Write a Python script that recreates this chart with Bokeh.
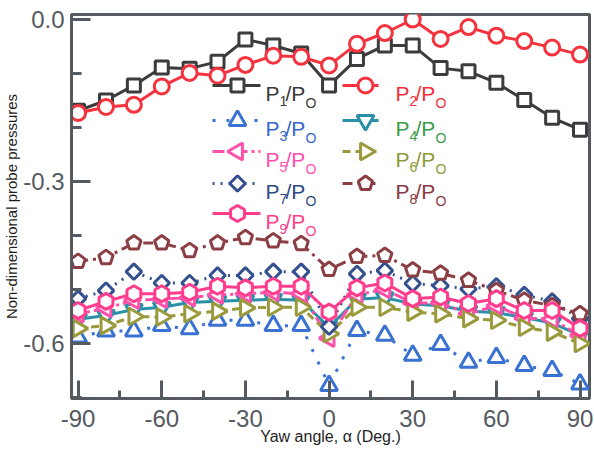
import math
from bokeh.plotting import figure
from bokeh.models import Range1d, FixedTicker, NumeralTickFormatter
from bokeh.core.properties import value
from bokeh.embed import file_html
from bokeh.resources import INLINE

# ---------------- data ----------------
yaw = [-90, -80, -70, -60, -50, -40, -30, -20, -10, 0, 10, 20, 30, 40, 50, 60, 70, 80, 90]
p1 = [-0.169, -0.150, -0.122, -0.089, -0.091, -0.078, -0.037, -0.048, -0.063, -0.122,
      -0.073, -0.048, -0.048, -0.090, -0.096, -0.117, -0.149, -0.182, -0.204]
p2 = [-0.173, -0.162, -0.158, -0.124, -0.099, -0.104, -0.084, -0.067, -0.069, -0.085,
      -0.045, -0.025, 0.000, -0.036, -0.014, -0.030, -0.040, -0.052, -0.065]
p3 = [-0.588, -0.577, -0.577, -0.567, -0.573, -0.557, -0.557, -0.567, -0.567, -0.678,
      -0.576, -0.585, -0.622, -0.602, -0.635, -0.626, -0.641, -0.650, -0.675]
p4 = [-0.555, -0.548, -0.537, -0.533, -0.524, -0.522, -0.520, -0.518, -0.520, -0.570,
      -0.518, -0.515, -0.527, -0.530, -0.540, -0.543, -0.552, -0.562, -0.585]
p5 = [-0.545, -0.535, -0.520, -0.518, -0.515, -0.510, -0.508, -0.505, -0.508, -0.590,
      -0.510, -0.500, -0.525, -0.525, -0.545, -0.530, -0.553, -0.555, -0.585]
p6 = [-0.572, -0.567, -0.550, -0.551, -0.545, -0.540, -0.534, -0.533, -0.533, -0.582,
      -0.533, -0.533, -0.542, -0.545, -0.554, -0.557, -0.570, -0.579, -0.600]
p7 = [-0.517, -0.502, -0.467, -0.488, -0.488, -0.474, -0.474, -0.467, -0.467, -0.569,
      -0.471, -0.465, -0.489, -0.493, -0.499, -0.494, -0.510, -0.522, -0.554]
p8 = [-0.448, -0.441, -0.414, -0.414, -0.428, -0.414, -0.404, -0.410, -0.415, -0.463,
      -0.439, -0.437, -0.464, -0.470, -0.483, -0.502, -0.520, -0.530, -0.545]
p9 = [-0.539, -0.522, -0.508, -0.508, -0.505, -0.494, -0.497, -0.494, -0.494, -0.542,
      -0.497, -0.488, -0.517, -0.514, -0.526, -0.517, -0.539, -0.539, -0.572]

series_names = ["1", "2", "3", "4", "5", "6", "7", "8", "9"]
x_ticks = [-90, -60, -30, 0, 30, 60, 90]
x_minor = [-75, -45, -15, 15, 45, 75]
y_ticks = [-0.6, -0.3, 0.0]
y_minor = [-0.7, -0.5, -0.4, -0.2, -0.1]
x_title = "Yaw angle, \u03b1 (Deg.)"
y_title = "Non-dimensional probe pressures"

# ---------------- styles ----------------
FONT = "Liberation Sans"
AX = "#555a60"
styles = [
    dict(lc="#3c3c3c", tc="#3a3a3a", dash="solid", m="square", s=13, a=0.0),
    dict(lc="#f5333f", tc="#f2303c", dash="solid", m="circle", s=15, a=0.0),
    dict(lc="#3a72d4", tc="#3466cc", dash="3 11", m="triangle", s=17, a=0.0),
    dict(lc="#2a90a8", tc="#3a9a4a", dash="solid", m="inverted_triangle", s=17, a=0.0),
    dict(lc="#ff50aa", tc="#ff4fae", dash="12 4 3 4", m="triangle", s=17, a=math.pi / 2),
    dict(lc="#9a9a3c", tc="#8f9a3a", dash="8 5", m="triangle", s=17, a=-math.pi / 2),
    dict(lc="#34508f", tc="#2e4a86", dash="2 6", m="square", s=11, a=math.pi / 4),
    dict(lc="#8b3f45", tc="#8a3a40", dash="10 5 3 5", m="pentagon", s=15, a=0.0),
    dict(lc="#ff3d8c", tc="#ff3f8c", dash="solid", m="hex", s=16, a=math.pi / 2),
]
data = [p1, p2, p3, p4, p5, p6, p7, p8, p9]

XR = (-92.37, 93.4)
YR = (-0.7019, 0.0093)
BL, BR, BT, BB = 71, 5, 14, 56
W, H = 594, 454
FW, FH = W - BL - BR, H - BT - BB

p = figure(width=W, height=H, output_backend="svg", toolbar_location=None,
           x_range=Range1d(*XR), y_range=Range1d(*YR),
           min_border_left=BL, min_border_right=BR, min_border_top=BT, min_border_bottom=BB,
           background_fill_color="white", border_fill_color="white")
p.grid.visible = False
p.outline_line_color = AX
p.outline_line_width = 3
p.outline_line_alpha = 1.0

p.xaxis.ticker = FixedTicker(ticks=x_ticks, minor_ticks=x_minor)
p.yaxis.ticker = FixedTicker(ticks=y_ticks, minor_ticks=y_minor)
p.xaxis.formatter = NumeralTickFormatter(format="0")
p.yaxis.formatter = NumeralTickFormatter(format="0.0")
for ax in (p.xaxis[0], p.yaxis[0]):
    ax.axis_line_color = AX
    ax.axis_line_width = 3
    ax.major_tick_line_color = AX
    ax.major_tick_line_width = 3
    ax.minor_tick_line_color = AX
    ax.minor_tick_line_width = 3
    ax.major_tick_out = 0
    ax.minor_tick_out = 0
    ax.major_label_text_font = FONT
    ax.major_label_text_font_size = "24px"
    ax.major_label_text_color = AX
    ax.axis_label_text_font = FONT
    ax.axis_label_text_font_style = "normal"
    ax.axis_label_text_color = "#1e1e1e"
p.xaxis.major_tick_in = 18
p.xaxis.minor_tick_in = 8
p.yaxis.major_tick_in = 19
p.yaxis.minor_tick_in = 10
p.xaxis.major_label_standoff = 11
p.yaxis.major_label_standoff = 7
p.xaxis.axis_label = x_title
p.yaxis.axis_label = y_title
p.xaxis.axis_label_text_font_size = "16px"
p.yaxis.axis_label_text_font_size = "15px"
p.xaxis.axis_label_standoff = -2
p.yaxis.axis_label_standoff = 0

# pixel <-> data helpers (for marker outlines and legend placement)
dx_px = (XR[1] - XR[0]) / FW
dy_px = (YR[1] - YR[0]) / FH


def X(px):
    return XR[0] + (px - BL) * dx_px


def Y(py):
    return YR[1] - (py - BT) * dy_px


def pentagons(xs, ys, r, color, lw):
    px, py = [], []
    for xv, yv in zip(xs, ys):
        px.append([xv + r * math.cos(math.pi / 2 + 2 * math.pi * k / 5) * dx_px for k in range(5)])
        py.append([yv + r * math.sin(math.pi / 2 + 2 * math.pi * k / 5) * dy_px for k in range(5)])
    p.patches(px, py, fill_color="white", line_color=color, line_width=lw)


def marker(xs, ys, st):
    if st["m"] == "pentagon":
        pentagons(xs, ys, st["s"] / 2.0, st["lc"], 3)
    else:
        p.scatter(xs, ys, marker=st["m"], size=st["s"], angle=st["a"],
                  line_color=st["lc"], fill_color="white", line_width=3)


for vals, st in zip(data, styles):
    p.line(yaw, vals, line_color=st["lc"], line_width=3, line_dash=st["dash"])
    marker(yaw, vals, st)

# ---------------- legend (hand-drawn for subscripts / coloured text) ----------------
rows = [85, 120, 151, 183, 213]
cols = [(212, 260, 237, 265), (342, 378, 365, 395)]
for i, st in enumerate(styles):
    c = cols[i % 2]
    r = rows[i // 2]
    p.line([X(c[0]), X(c[1])], [Y(r), Y(r)], line_color=st["lc"], line_width=3,
           line_dash=st["dash"])
    marker([X(c[2])], [Y(r)], st)
    tx = c[3]
    p.text([X(tx), X(tx + 20)], [Y(r + 8), Y(r + 8)], text=["P", "/P"],
           text_color=st["tc"], text_font=value(FONT), text_font_size="21px",
           text_baseline="alphabetic", text_align="left")
    p.text([X(tx + 14), X(tx + 40)], [Y(r + 15), Y(r + 17)], text=[series_names[i], "O"],
           text_color=st["tc"], text_font=value(FONT), text_font_size="14px",
           text_baseline="alphabetic", text_align="left")

open("out.html", "w").write(file_html(p, INLINE))
